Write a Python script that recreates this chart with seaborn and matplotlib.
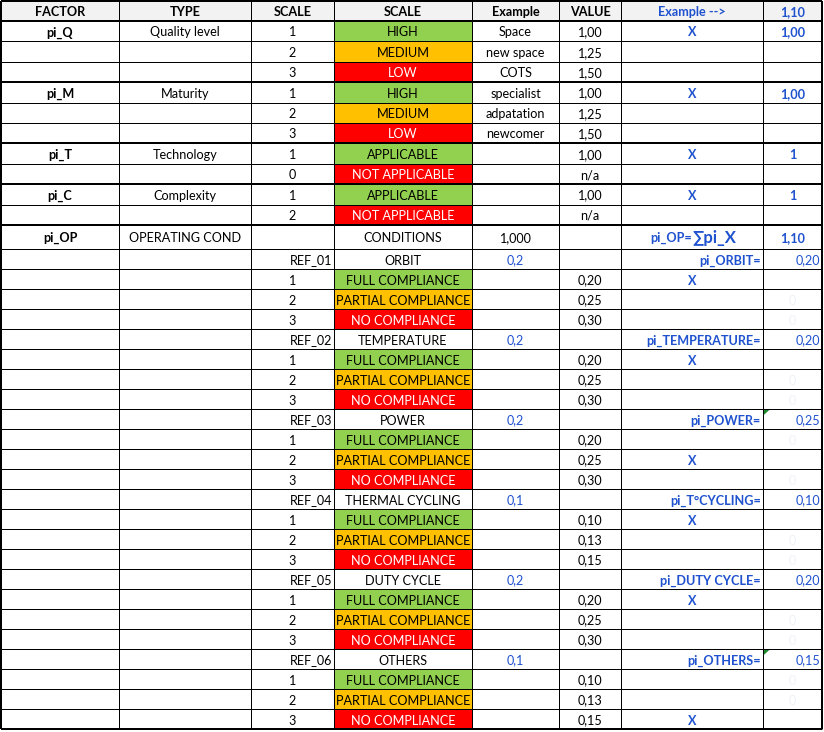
import numpy as np
import matplotlib
matplotlib.use("Agg")
import matplotlib.pyplot as plt
from matplotlib.colors import ListedColormap
import seaborn as sns

sns.set_style("white")
plt.rcParams["font.family"] = ["Lato", "DejaVu Sans"]

# table content
header = ["FACTOR", "TYPE", "SCALE", "SCALE", "Example", "VALUE", "Example -->", "1,10"]

factors = ["pi_Q", "pi_M", "pi_T", "pi_C"]
factor_types = ["Quality level", "Maturity", "Technology", "Complexity"]
factor_scales = [["1", "2", "3"], ["1", "2", "3"], ["1", "0"], ["1", "2"]]
factor_levels = [["HIGH", "MEDIUM", "LOW"], ["HIGH", "MEDIUM", "LOW"],
                 ["APPLICABLE", "NOT APPLICABLE"], ["APPLICABLE", "NOT APPLICABLE"]]
factor_examples = [["Space", "new space", "COTS"], ["specialist", "adpatation", "newcomer"],
                   ["", ""], ["", ""]]
factor_values = [["1,00", "1,25", "1,50"], ["1,00", "1,25", "1,50"], ["1,00", "n/a"], ["1,00", "n/a"]]
factor_pick = [0, 0, 0, 0]
factor_result = ["1,00", "1,00", "1", "1"]

op_row = ["pi_OP", "OPERATING COND", "", "CONDITIONS", "1,000", "", "pi_OP=", "1,10"]
op_sum = "∑pi_X"

cond_refs = ["REF_01", "REF_02", "REF_03", "REF_04", "REF_05", "REF_06"]
cond_names = ["ORBIT", "TEMPERATURE", "POWER", "THERMAL CYCLING", "DUTY CYCLE", "OTHERS"]
cond_weights = ["0,2", "0,2", "0,2", "0,1", "0,2", "0,1"]
cond_labels = ["pi_ORBIT=", "pi_TEMPERATURE=", "pi_POWER=", "pi_T°CYCLING=", "pi_DUTY CYCLE=", "pi_OTHERS="]
cond_results = ["0,20", "0,20", "0,25", "0,10", "0,20", "0,15"]
cond_values = [["0,20", "0,25", "0,30"], ["0,20", "0,25", "0,30"], ["0,20", "0,25", "0,30"],
               ["0,10", "0,13", "0,15"], ["0,20", "0,25", "0,30"], ["0,10", "0,13", "0,15"]]
cond_pick = [0, 0, 1, 0, 0, 2]
cond_flag = [False, False, True, False, False, True]
compliance = ["FULL COMPLIANCE", "PARTIAL COMPLIANCE", "NO COMPLIANCE"]

level_code = {"HIGH": 2, "APPLICABLE": 2, "FULL COMPLIANCE": 2,
              "MEDIUM": 3, "PARTIAL COMPLIANCE": 3,
              "LOW": 4, "NOT APPLICABLE": 4, "NO COMPLIANCE": 4}
fill_colors = ["#ffffff", "#f2f2f2", "#92d050", "#ffc000", "#ff0000"]
blue = "#1f52cf"

# build rows: each cell = (text, style) ; fills per cell
rows, fills = [], []
rows.append([(h, "hdr") for h in header[:6]] + [(header[6], "hdrblue"), (header[7], "hdrblue")])
fills.append([1] * 8)
for k in range(len(factors)):
    for i in range(len(factor_levels[k])):
        lev = factor_levels[k][i]
        pick = i == factor_pick[k]
        rows.append([
            (factors[k] if i == 0 else "", "bold"),
            (factor_types[k] if i == 0 else "", "plain"),
            (factor_scales[k][i], "plain"),
            (lev, "white" if level_code[lev] == 4 else "plain"),
            (factor_examples[k][i], "plain"),
            (factor_values[k][i], "plain"),
            ("X" if pick else "", "bluebold"),
            (factor_result[k] if pick else "", "bluebold"),
        ])
        fills.append([0, 0, 0, level_code[lev], 0, 0, 0, 0])
rows.append([(op_row[0], "bold"), (op_row[1], "plain"), ("", "plain"), (op_row[3], "plain"),
             (op_row[4], "plain"), ("", "plain"), (op_row[6], "opsum"), (op_row[7], "bluebold")])
fills.append([0] * 8)
for g in range(len(cond_refs)):
    rows.append([("", "plain"), ("", "plain"), (cond_refs[g], "right"), (cond_names[g], "plain"),
                 (cond_weights[g], "blue"), ("", "plain"), (cond_labels[g], "bluebold_r"),
                 (cond_results[g], "blue_r")])
    fills.append([0] * 8)
    for i, lev in enumerate(compliance):
        pick = i == cond_pick[g]
        rows.append([("", "plain"), ("", "plain"), (str(i + 1), "plain"),
                     (lev, "white" if level_code[lev] == 4 else "plain"),
                     ("", "plain"), (cond_values[g][i], "plain"),
                     ("X" if pick else "", "bluebold"),
                     ("" if pick else "0", "ghost")])
        fills.append([0, 0, 0, level_code[lev], 0, 0, 0, 0])

# layout in pixels
W, H = 824, 732
col_edges = [1, 119, 251, 334, 472, 559, 621, 763, 822]
row_edges = [1.0, 21.0]
for _ in range(10):
    row_edges.append(row_edges[-1] + 20.4)
row_edges.append(row_edges[-1] + 24.3)
for _ in range(24):
    row_edges.append(row_edges[-1] + 20.0)
thick_rows = [1, 4, 7, 9, 11]

codes = np.zeros((H, W), dtype=int)
for r, frow in enumerate(fills):
    y0, y1 = int(round(row_edges[r])), int(round(row_edges[r + 1]))
    for c, code in enumerate(frow):
        codes[y0:y1, col_edges[c]:col_edges[c + 1]] = code

fig = plt.figure(figsize=(W / 100, H / 100), dpi=100)
ax = fig.add_axes([0, 0, 1, 1])
sns.heatmap(codes, cmap=ListedColormap(fill_colors), vmin=-0.5, vmax=4.5, cbar=False,
            xticklabels=False, yticklabels=False, ax=ax, rasterized=True)
ax.set_xlim(0, W)
ax.set_ylim(H, 0)
ax.axis("off")

px = 0.72
for r, y in enumerate(row_edges):
    lw = 2 * px if r in thick_rows else px
    ax.hlines(y, col_edges[0], col_edges[-1], color="black", lw=lw)
for x in col_edges[1:-1]:
    ax.vlines(x, row_edges[0], row_edges[-1], color="black", lw=px)
ax.vlines([col_edges[0], col_edges[-1]], row_edges[0], row_edges[-1], color="black", lw=2 * px)
ax.hlines([row_edges[0], row_edges[-1]], col_edges[0], col_edges[-1], color="black", lw=2 * px)

fs = 9.1
styles = {
    "hdr": dict(color="black", weight="bold", ha="center"),
    "hdrblue": dict(color=blue, weight="bold", ha="center"),
    "bold": dict(color="black", weight="bold", ha="center"),
    "plain": dict(color="black", weight="normal", ha="center"),
    "white": dict(color="white", weight="normal", ha="center"),
    "right": dict(color="black", weight="normal", ha="right"),
    "blue": dict(color=blue, weight="normal", ha="center"),
    "blue_r": dict(color=blue, weight="normal", ha="right"),
    "bluebold": dict(color=blue, weight="bold", ha="center"),
    "bluebold_r": dict(color=blue, weight="bold", ha="right"),
    "ghost": dict(color="#eef1f7", weight="normal", ha="center"),
    "opsum": dict(color=blue, weight="bold", ha="right"),
}
for r, row in enumerate(rows):
    yc = (row_edges[r] + row_edges[r + 1]) / 2 + 1.2
    for c, (txt, st) in enumerate(row):
        if not txt:
            continue
        s = styles[st]
        if s["ha"] == "center":
            x = (col_edges[c] + col_edges[c + 1]) / 2
        elif st == "opsum":
            x = 692
        else:
            x = col_edges[c + 1] - 2
        ax.text(x, yc, txt, ha=s["ha"], va="center", fontsize=fs, color=s["color"],
                fontweight=s["weight"])
        if st == "opsum":
            ax.text(x, yc - 0.8, op_sum, ha="left", va="center", fontsize=12, color=blue,
                    fontweight="bold")

# green error markers
for g, flag in enumerate(cond_flag):
    if flag:
        y = row_edges[12 + 4 * g]
        x = col_edges[7]
        ax.fill([x + 0.5, x + 6.5, x + 0.5], [y + 0.5, y + 0.5, y + 6], color="#1e8c2a", lw=0)

fig.savefig("out.png", dpi=100)
